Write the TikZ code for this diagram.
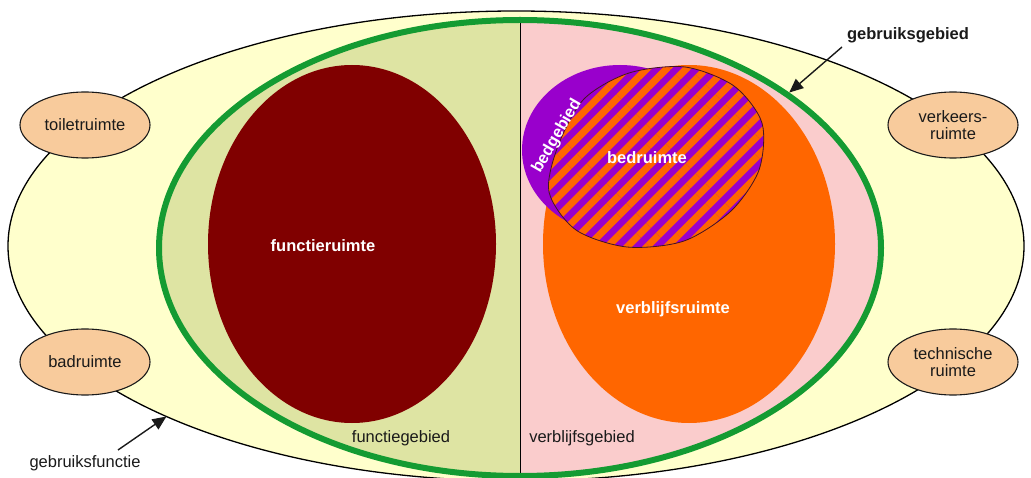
\documentclass[tikz,border=0pt]{standalone}
\usepackage{fontspec}
\setmainfont{Liberation Sans}
\usetikzlibrary{shapes.geometric,arrows.meta,patterns.meta}

\definecolor{areafill}{RGB}{255,255,204}
\definecolor{funcarea}{RGB}{222,228,163}
\definecolor{stayarea}{RGB}{250,204,204}
\definecolor{zonegreen}{RGB}{20,155,50}
\definecolor{funcroomc}{RGB}{128,0,0}
\definecolor{stayroomc}{RGB}{255,102,0}
\definecolor{bedzonec}{RGB}{153,0,204}
\definecolor{sideroomc}{RGB}{248,203,156}
\definecolor{labelink}{RGB}{26,26,26}
\definecolor{bedrim}{RGB}{70,20,30}

\tikzset{
  blob/.style={ellipse, inner sep=0pt, outer sep=0pt},
  sidespace/.style={blob, draw=labelink, line width=1.1pt, fill=sideroomc,
    minimum width=130pt, minimum height=66pt, align=center,
    font=\fontsize{16.5}{17}\selectfont, text=labelink},
  inlabel/.style={font=\fontsize{16.5}{18}\selectfont\bfseries, text=white},
  plainlabel/.style={font=\fontsize{16.5}{18}\selectfont, text=labelink},
  pointer/.style={-{Triangle[length=14pt,width=12pt]}, line width=1.4pt, draw=labelink},
  hatched/.style={draw=bedrim, line width=0.8pt, preaction={fill=bedzonec},
    pattern={Lines[angle=45,distance=14pt,line width=7pt]}, pattern color=stayroomc},
}

\begin{document}
\begin{tikzpicture}[x=1pt,y=-1pt]
\useasboundingbox (0,0) rectangle (1031,478);
\clip (0,0) rectangle (1031,478);

% gebruiksfunctie: the outer ellipse
\node[blob, draw=black, line width=1.3pt, fill=areafill,
  minimum width=1016pt, minimum height=470pt] (usefn) at (516,246) {};

% gebruiksgebied: green ring, split into two halves
\node[blob, draw=zonegreen, line width=6pt, outer sep=3pt,
  minimum width=722pt, minimum height=456pt,
  path picture={
    \fill[funcarea] (path picture bounding box.north west) rectangle (path picture bounding box.south);
    \fill[stayarea] (path picture bounding box.north) rectangle (path picture bounding box.south east);
    \draw[black, line width=0.9pt] (path picture bounding box.north) -- (path picture bounding box.south);
  }] (usearea) at (520,248) {};

% rooms inside the use area
\node[blob, fill=funcroomc, minimum width=288pt, minimum height=358pt] (funcroom) at (352,244) {};
\node[blob, fill=stayroomc, minimum width=292pt, minimum height=358pt] (stayroom) at (689,244) {};
\node[blob, fill=bedzonec, minimum width=196pt, minimum height=170pt] (bedzone) at (620,150) {};

% bedruimte: striped overlap of bed zone and living room
\path[hatched] plot[smooth cycle] coordinates {
  (762,123) (734,86) (685,67) (629,73) (584,99) (558,146)
  (549,192) (576,230) (627,247) (684,241) (731,211) (759,170)};

% labels
\node[inlabel] (funclbl) at (323,246) {functieruimte};
\node[inlabel] (staylbl) at (673,309) {verblijfsruimte};
\node[inlabel] (bedlbl) at (647,158) {bedruimte};
\node[inlabel, rotate=60] (bedzonelbl) at (557,136) {bedgebied};
\node[plainlabel] (funcarealbl) at (401,438) {functiegebied};
\node[plainlabel] (stayarealbl) at (582,438) {verblijfsgebied};
\node[plainlabel, font=\fontsize{16.5}{18}\selectfont\bfseries] (usearealbl) at (908,35) {gebruiksgebied};
\node[plainlabel] (usefnlbl) at (85,463) {gebruiksfunctie};

% side spaces on the outer ring
\node[sidespace] (toilet) at (85,125) {toiletruimte};
\node[sidespace] (bath) at (85,362) {badruimte};
\node[sidespace] (traffic) at (953,125) {verkeers-\\ruimte};
\node[sidespace] (tech) at (953,362) {technische\\ruimte};

% pointers
\coordinate (usearea tail) at (842,47);
\draw[pointer] (usearea tail) -- (usearea.30);
\coordinate (usefn tail) at (118,450);
\draw[pointer] (usefn tail) -- (usefn.206);
\end{tikzpicture}
\end{document}
